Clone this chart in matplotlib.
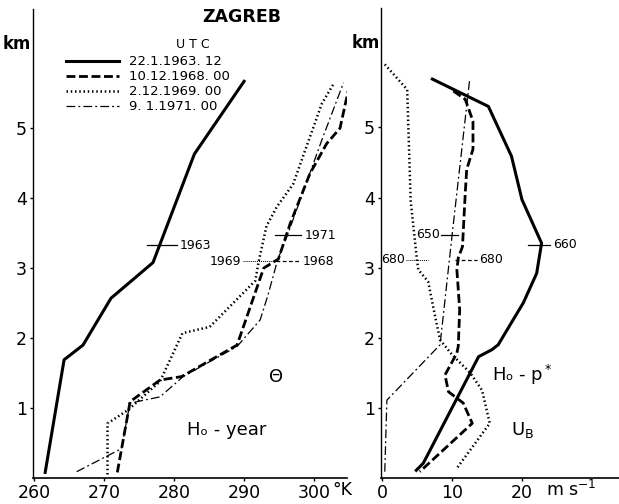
import matplotlib
matplotlib.use("Agg")
import matplotlib.pyplot as plt

# potential temperature profiles (K) vs height (km)
t1963 = [261.6, 264.3, 267.0, 271.0, 277.0, 282.9, 290.0]
z1963 = [0.08, 1.69, 1.90, 2.57, 3.08, 4.63, 5.67]
t1968 = [271.9, 273.6, 273.7, 278.0, 281.1, 289.0, 292.8, 294.9, 296.6, 299.4, 301.8, 303.7, 305.1]
z1968 = [0.08, 1.02, 1.09, 1.40, 1.45, 1.90, 3.00, 3.13, 3.64, 4.35, 4.78, 5.00, 5.64]
t1969 = [270.5, 270.5, 273.4, 278.0, 281.2, 285.1, 291.6, 292.1, 293.2, 294.7, 297.0, 301.1, 302.7]
z1969 = [0.05, 0.78, 0.97, 1.38, 2.07, 2.16, 2.82, 3.10, 3.60, 3.88, 4.20, 5.35, 5.62]
t1971 = [266.1, 272.5, 273.7, 278.0, 281.3, 289.0, 292.3, 293.4, 294.8, 296.3, 299.3, 301.1, 304.2]
z1971 = [0.09, 0.42, 1.07, 1.16, 1.45, 1.88, 2.26, 2.61, 3.12, 3.50, 4.33, 4.83, 5.65]

# wind speed profiles (m/s) vs height (km)
u1963 = [7.2, 15.2, 18.5, 20.0, 22.8, 22.1, 20.2, 16.6, 15.7, 13.8, 5.9, 4.9]
zu1963 = [5.69, 5.30, 4.59, 3.97, 3.35, 2.92, 2.50, 1.90, 1.83, 1.73, 0.21, 0.11]
u1968 = [10.2, 11.9, 13.0, 13.0, 12.1, 11.9, 11.5, 10.9, 10.7, 11.1, 10.9, 10.7, 9.0, 9.5, 11.6, 12.9, 5.4]
zu1968 = [5.52, 5.40, 5.09, 4.69, 4.40, 4.07, 3.30, 3.14, 2.97, 2.40, 1.88, 1.78, 1.47, 1.23, 1.07, 0.78, 0.09]
u1969 = [0.4, 3.6, 4.1, 5.0, 5.2, 6.6, 7.6, 8.3, 10.0, 12.6, 14.3, 15.4, 10.7]
zu1969 = [5.90, 5.54, 3.95, 3.11, 2.97, 2.80, 2.30, 1.97, 1.76, 1.50, 1.25, 0.78, 0.14]
u1971 = [12.5, 10.0, 8.3, 0.7, 0.4]
zu1971 = [5.66, 3.45, 1.90, 1.11, 0.09]

legend_labels = ["22.1.1963. 12", "10.12.1968. 00", "2.12.1969. 00", "9. 1.1971. 00"]
theta_ticks = [260, 270, 280, 290, 300]
u_ticks = [0, 10, 20]
z_ticks = [1, 2, 3, 4, 5]

NARROW = ["Liberation Sans Narrow", "DejaVu Sans"]
plt.rcParams["font.family"] = NARROW

styles = [
    dict(color="k", lw=2.2, ls="-"),
    dict(color="k", lw=2.0, ls=(0, (3.2, 1.3))),
    dict(color="k", lw=1.8, ls=(0, (0.6, 1.1))),
    dict(color="k", lw=0.9, ls=(0, (7, 2.5, 1.5, 2.5))),
]


def style_axis(ax, xmin, xmax, xticks):
    for s in ["top", "right"]:
        ax.spines[s].set_visible(False)
    ax.spines["left"].set_linewidth(1.0)
    ax.spines["bottom"].set_linewidth(1.2)
    ax.set_xlim(xmin, xmax)
    ax.set_ylim(0, 6.7)
    ax.set_xticks(xticks)
    ax.set_yticks(z_ticks)
    ax.tick_params(direction="out", length=2.5, width=1, pad=2, labelsize=12.5)
    ax.text(-0.005, 0.925, "km", transform=ax.transAxes, ha="right", va="center",
            fontsize=12, fontweight="bold", family="DejaVu Sans")


fig = plt.figure(figsize=(6.19, 5.04), dpi=100)
ax1 = fig.add_axes([0.0533, 0.0516, 0.5073, 0.930])
ax2 = fig.add_axes([0.6155, 0.0516, 0.3845, 0.932])

lines = []
for t, z, st, lab in zip([t1963, t1968, t1969, t1971], [z1963, z1968, z1969, z1971],
                         styles, legend_labels):
    l, = ax1.plot(t, z, label=lab, **st)
    lines.append(l)
for u, z, st in zip([u1963, u1968, u1969, u1971], [zu1963, zu1968, zu1969, zu1971], styles):
    ax2.plot(u, z, **st)

style_axis(ax1, 259.86, 304.7, theta_ticks)
style_axis(ax2, -0.14, 33.86, u_ticks)

# year marks on the theta profiles
ax1.plot([276.1, 280.4], [3.33, 3.33], color="k", lw=0.9)
ax1.text(280.8, 3.33, "1963", fontsize=9, va="center")
ax1.plot([294.4, 298.2], [3.47, 3.47], color="k", lw=0.9)
ax1.text(298.6, 3.47, "1971", fontsize=9, va="center")
ax1.plot([289.8, 294.6], [3.1, 3.1], color="k", lw=0.7, ls=(0, (1, 1)))
ax1.plot([294.6, 298.0], [3.1, 3.1], color="k", lw=0.9, ls=(0, (3, 2)))
ax1.text(289.6, 3.1, "1969", fontsize=9, va="center", ha="right")
ax1.text(298.3, 3.1, "1968", fontsize=9, va="center")

# pressure marks on the wind profiles
ax2.plot([20.9, 24.0], [3.33, 3.33], color="k", lw=0.9)
ax2.text(24.5, 3.33, "660", fontsize=9, va="center")
ax2.plot([8.5, 10.9], [3.47, 3.47], color="k", lw=0.9)
ax2.text(8.3, 3.47, "650", fontsize=9, va="center", ha="right")
ax2.plot([3.4, 6.6], [3.11, 3.11], color="k", lw=0.7, ls=(0, (1, 1)))
ax2.text(3.3, 3.11, "680", fontsize=9, va="center", ha="right")
ax2.plot([10.4, 13.6], [3.11, 3.11], color="k", lw=0.9, ls=(0, (3, 2)))
ax2.text(13.9, 3.11, "680", fontsize=9, va="center")

# panel texts
ax1.text(294.6, 1.44, "\u0398", fontsize=13, ha="center", va="center", family="DejaVu Sans")
ax1.text(287.5, 0.69, "H\u2092 - year", fontsize=13, ha="center", va="center",
         family="DejaVu Sans")
ax2.text(20.1, 1.47, "H\u2092 - p$^*$", fontsize=13, ha="center", va="center",
         family="DejaVu Sans")
ax2.text(20.1, 0.69, r"U$_\mathrm{B}$", fontsize=13, ha="center", va="center",
         family="DejaVu Sans")
ax1.text(304.0, -0.026, "\u00b0K", transform=ax1.get_xaxis_transform(), fontsize=12.5,
         ha="center", va="center")
ax2.text(27.0, -0.026, r"m s$^{-1}$", transform=ax2.get_xaxis_transform(), fontsize=12.5,
         ha="center", va="center")

fig.text(0.39, 0.966, "ZAGREB", fontsize=12.5, fontweight="bold", ha="center",
         va="center", family="DejaVu Sans")
ax1.text(0.51, 0.925, "U T C", transform=ax1.transAxes, fontsize=9, ha="center",
         va="center", family="DejaVu Sans")

ax1.legend(handles=lines, loc="upper left", bbox_to_anchor=(0.105, 0.902), frameon=False,
           fontsize=9.5, handlelength=4.0, handletextpad=0.75, labelspacing=0.15,
           borderpad=0, borderaxespad=0)

fig.savefig("out.png", dpi=100)
